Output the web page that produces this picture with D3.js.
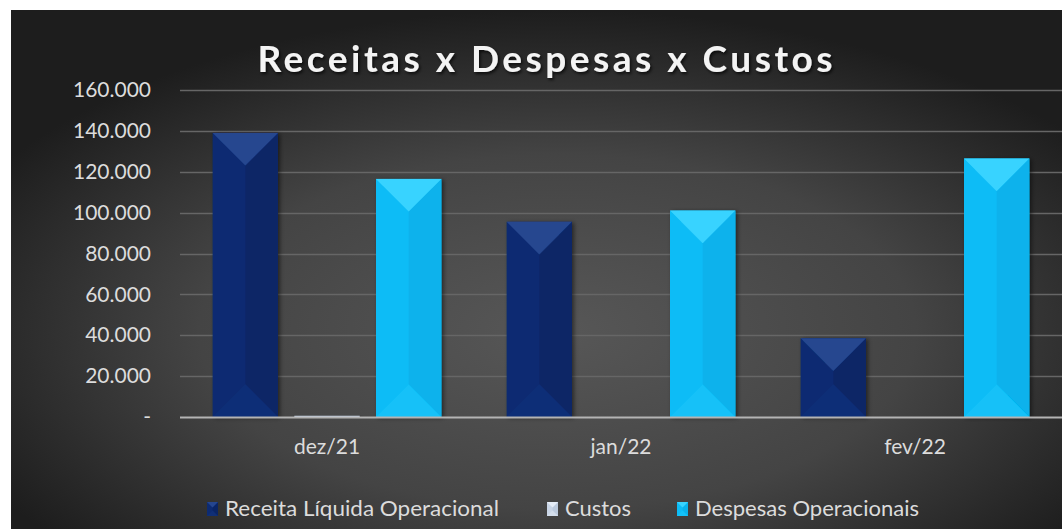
<!DOCTYPE html>
<html>
<head>
<meta charset="utf-8">
<script src="https://cdn.jsdelivr.net/npm/d3@7"></script>
<style>
  body { margin: 0; background: #fff; }
  svg { display: block; }
  text { font-family: Lato, "Noto Sans", sans-serif; }
</style>
</head>
<body>
<div id="chart"></div>
<script>
// data
var categories = ["dez/21", "jan/22", "fev/22"];
var seriesNames = ["Receita Líquida Operacional", "Custos", "Despesas Operacionais"];
var receita = [139000, 95500, 38500];
var custos = [600, 0, 0];
var despesas = [116500, 101000, 126500];
var yTicks = [0, 20000, 40000, 60000, 80000, 100000, 120000, 140000, 160000];
var yTickLabels = ["-", "20.000", "40.000", "60.000", "80.000", "100.000", "120.000", "140.000", "160.000"];

var W = 1062, H = 529;
var margin = {top: 90, left: 180, right: 0, bottom: 112};

// shading for each series: top, left, right, bottom faces
var palettes = [
  {top: "#25468f", left: "#0d2b72", right: "#0a2566", bottom: "#102f77"},
  {top: "#e6edf7", left: "#c9d5e6", right: "#bccadd", bottom: "#d3ddeb"},
  {top: "#38d3ff", left: "#0cbcf6", right: "#08b2ec", bottom: "#13c1f8"}
];

var svg = d3.select("#chart").append("svg")
  .attr("width", W).attr("height", H);

var defs = svg.append("defs");
var grad = defs.append("radialGradient").attr("id", "bg")
  .attr("cx", "52%").attr("cy", "62%").attr("r", "62%");
grad.append("stop").attr("offset", "0%").attr("stop-color", "#575757");
grad.append("stop").attr("offset", "55%").attr("stop-color", "#444444");
grad.append("stop").attr("offset", "100%").attr("stop-color", "#1d1d1d");

var shadow = defs.append("filter").attr("id", "shadow")
  .attr("x", "-20%").attr("y", "-20%").attr("width", "140%").attr("height", "140%");
shadow.append("feDropShadow").attr("dx", 2).attr("dy", 1).attr("stdDeviation", 2)
  .attr("flood-color", "#000").attr("flood-opacity", 0.5);

var tshadow = defs.append("filter").attr("id", "tshadow")
  .attr("x", "-10%").attr("y", "-30%").attr("width", "120%").attr("height", "160%");
tshadow.append("feDropShadow").attr("dx", 1.5).attr("dy", 2).attr("stdDeviation", 1.5)
  .attr("flood-color", "#000").attr("flood-opacity", 0.7);

// background
svg.append("rect").attr("x", 11).attr("y", 10)
  .attr("width", W - 11).attr("height", H - 10)
  .attr("fill", "url(#bg)");

// scales
var x0 = d3.scaleBand().domain(categories)
  .range([margin.left, W - margin.right]).padding(0);
var x1 = d3.scaleBand().domain(seriesNames)
  .range([0, x0.bandwidth()]).paddingInner(0.2).paddingOuter(0.4);
var y = d3.scaleLinear().domain([0, 160000])
  .range([H - margin.bottom, margin.top]);

// gridlines
svg.append("g").selectAll("line").data(yTicks.slice(1)).enter().append("line")
  .attr("x1", margin.left).attr("x2", W)
  .attr("y1", function(d) { return Math.round(y(d)) + 0.5; })
  .attr("y2", function(d) { return Math.round(y(d)) + 0.5; })
  .attr("stroke", "#666").attr("stroke-width", 1.5);

// y axis
var yAxis = svg.append("g")
  .attr("transform", "translate(" + 151 + ",0)")
  .call(d3.axisLeft(y).tickValues(yTicks).tickSize(0).tickPadding(0)
    .tickFormat(function(d, i) { return yTickLabels[i]; }));
yAxis.select(".domain").remove();
yAxis.selectAll("text")
  .attr("fill", "#dcdcdc").style("font-size", "21px")
  .style("font-family", "Lato, sans-serif");

// bars with bevel
var data = [];
categories.forEach(function(c, i) {
  [receita[i], custos[i], despesas[i]].forEach(function(v, s) {
    if (v > 0) data.push({cat: c, series: s, value: v});
  });
});

function bevel(g, bx, by, bw, bh, p) {
  var d = Math.min(bw / 2, bh / 2);
  var cx = bx + bw / 2;
  g.append("rect").attr("x", bx).attr("y", by).attr("width", bw).attr("height", bh)
    .attr("fill", p.left);
  if (bh < 3) return;
  g.append("path").attr("fill", p.right)
    .attr("d", "M" + (bx + bw) + "," + by + "L" + cx + "," + (by + d) + "L" + cx + "," + (by + bh - d) + "L" + (bx + bw) + "," + (by + bh) + "Z");
  g.append("path").attr("fill", p.bottom)
    .attr("d", "M" + bx + "," + (by + bh) + "L" + (bx + bw) + "," + (by + bh) + "L" + cx + "," + (by + bh - d) + "Z");
  g.append("path").attr("fill", p.top)
    .attr("d", "M" + bx + "," + by + "L" + (bx + bw) + "," + by + "L" + cx + "," + (by + d) + "Z");
}

var bars = svg.append("g");
data.forEach(function(d) {
  var g = bars.append("g").attr("filter", "url(#shadow)");
  var bx = x0(d.cat) + x1(seriesNames[d.series]);
  var by = y(d.value);
  bevel(g, bx, by, x1.bandwidth(), y(0) - by, palettes[d.series]);
});

// baseline
svg.append("line")
  .attr("x1", margin.left).attr("x2", W)
  .attr("y1", y(0) + 0.5).attr("y2", y(0) + 0.5)
  .attr("stroke", "#b4b4b4").attr("stroke-width", 2);

// x axis labels
var xAxis = svg.append("g")
  .attr("transform", "translate(0," + (y(0) + 22) + ")")
  .call(d3.axisBottom(x0).tickSize(0).tickPadding(0));
xAxis.select(".domain").remove();
xAxis.selectAll("text")
  .attr("fill", "#dcdcdc").style("font-size", "21px")
  .style("font-family", "Lato, sans-serif");

// title
svg.append("text")
  .attr("x", 545).attr("y", 72)
  .attr("text-anchor", "middle")
  .attr("fill", "#f4f4f4")
  .attr("filter", "url(#tshadow)")
  .attr("textLength", 575).attr("lengthAdjust", "spacing")
  .style("font-size", "37px").style("font-weight", "bold")
  .text("Receitas x Despesas x Custos");

// legend
var legendX = [207, 547, 677];
var legend = svg.append("g");
seriesNames.forEach(function(name, i) {
  var g = legend.append("g");
  bevel(g, legendX[i], 502, 11, 14, palettes[i]);
  g.append("text")
    .attr("x", legendX[i] + 18).attr("y", 516)
    .attr("fill", "#dcdcdc").style("font-size", "21px")
    .attr("textLength", [274, 66, 224][i]).attr("lengthAdjust", "spacingAndGlyphs")
    .text(name);
});
</script>
</body>
</html>
